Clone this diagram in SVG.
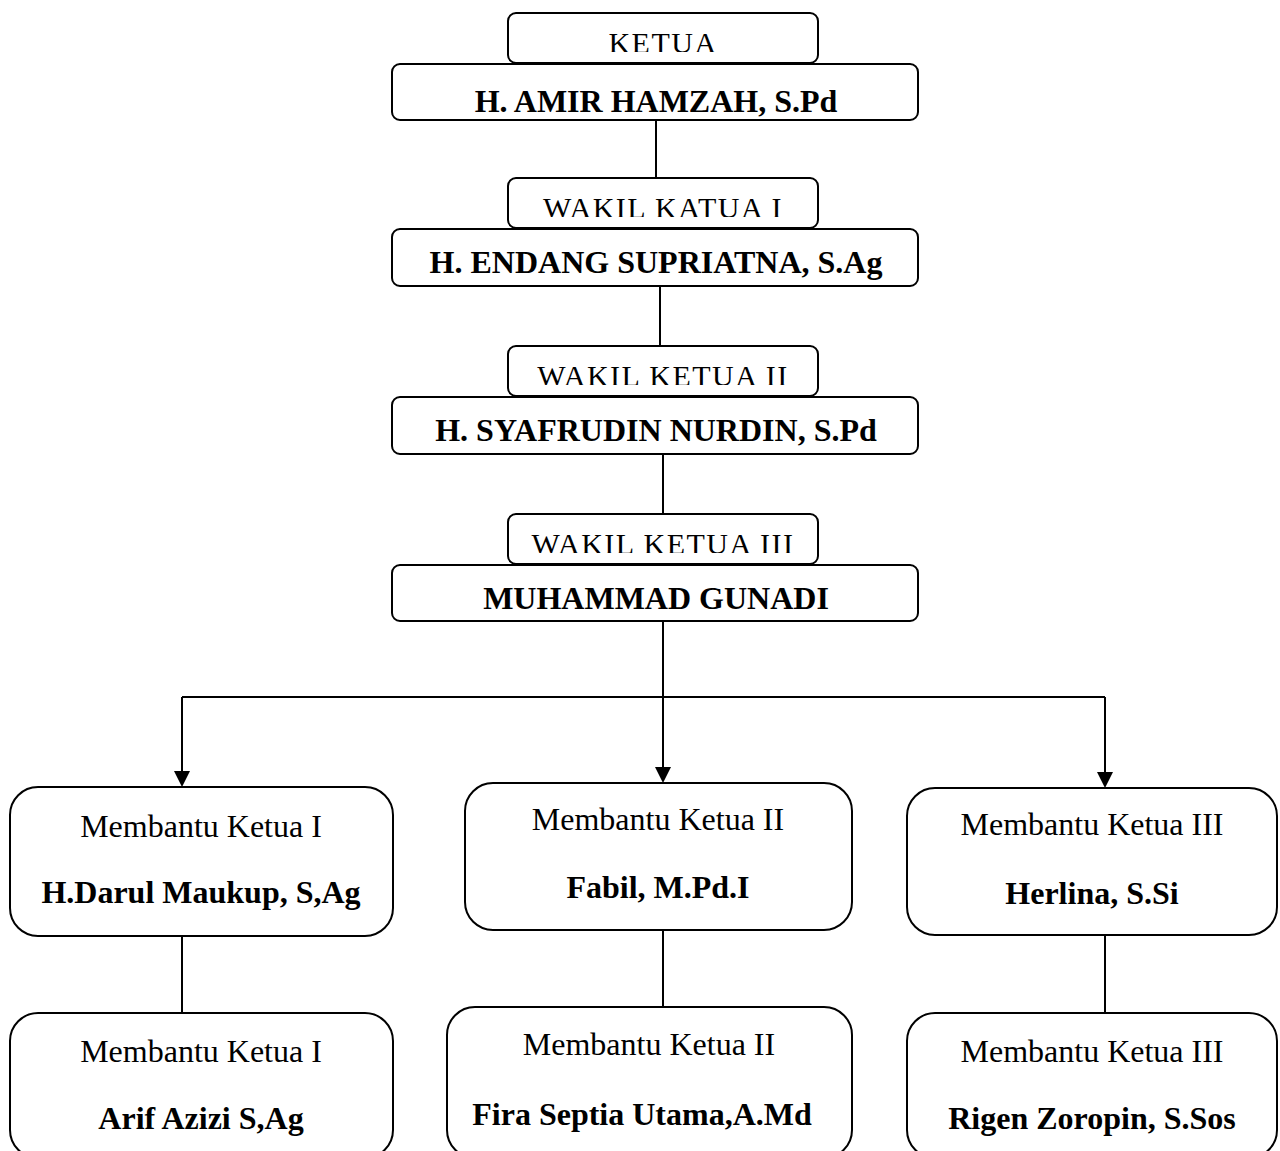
<svg xmlns="http://www.w3.org/2000/svg" width="1280" height="1151" viewBox="0 0 1280 1151">
<style>
.box{fill:#fff;stroke:#000;stroke-width:2}
.lbl{font-family:"Liberation Serif","Times New Roman",serif;font-size:30px;letter-spacing:1.5px;text-anchor:middle;fill:#000}
.name{font-family:"Liberation Serif","Times New Roman",serif;font-size:32px;font-weight:bold;text-anchor:middle;fill:#000}
.role{font-family:"Liberation Serif","Times New Roman",serif;font-size:32px;text-anchor:middle;fill:#000}
.person{font-family:"Liberation Serif","Times New Roman",serif;font-size:32px;font-weight:bold;text-anchor:middle;fill:#000}
.ln{stroke:#000;stroke-width:2;fill:none}
</style>
<defs>
<clipPath id="c1"><rect x="508" y="13" width="310" height="39"/></clipPath>
<clipPath id="c2"><rect x="508" y="178" width="310" height="39"/></clipPath>
<clipPath id="c3"><rect x="508" y="346" width="310" height="39"/></clipPath>
<clipPath id="c4"><rect x="508" y="514" width="310" height="39"/></clipPath>
</defs>
<g id="connectors">
<line class="ln" x1="656" y1="120" x2="656" y2="178"/>
<line class="ln" x1="660" y1="286" x2="660" y2="346"/>
<line class="ln" x1="663" y1="453" x2="663" y2="514"/>
<line class="ln" x1="663" y1="620" x2="663" y2="697"/>
<line class="ln" x1="182" y1="697" x2="1105" y2="697"/>
<line class="ln" x1="182" y1="697" x2="182" y2="772"/>
<path d="M174,771 L190,771 L182,787 Z" fill="#000"/>
<line class="ln" x1="663" y1="697" x2="663" y2="768"/>
<path d="M655,767 L671,767 L663,783 Z" fill="#000"/>
<line class="ln" x1="1105" y1="697" x2="1105" y2="772"/>
<path d="M1097,772 L1113,772 L1105,788 Z" fill="#000"/>
<line class="ln" x1="182" y1="936" x2="182" y2="1013"/>
<line class="ln" x1="663" y1="930" x2="663" y2="1008"/>
<line class="ln" x1="1105" y1="935" x2="1105" y2="1013"/>
</g>
<g id="ketua">
<rect class="box" x="508" y="13" width="310" height="50" rx="8"/>
<text class="lbl" x="663" y="53" clip-path="url(#c1)">KETUA</text>
<rect class="box" x="392" y="64" width="526" height="56" rx="8"/>
<text class="name" x="656" y="112">H. AMIR HAMZAH, S.Pd</text>
</g>
<g id="wakil1">
<rect class="box" x="508" y="178" width="310" height="50" rx="8"/>
<text class="lbl" x="663" y="218" clip-path="url(#c2)">WAKIL KATUA I</text>
<rect class="box" x="392" y="229" width="526" height="57" rx="8"/>
<text class="name" x="656" y="273">H. ENDANG SUPRIATNA, S.Ag</text>
</g>
<g id="wakil2">
<rect class="box" x="508" y="346" width="310" height="50" rx="8"/>
<text class="lbl" x="663" y="386" clip-path="url(#c3)">WAKIL KETUA II</text>
<rect class="box" x="392" y="397" width="526" height="57" rx="8"/>
<text class="name" x="656" y="441">H. SYAFRUDIN NURDIN, S.Pd</text>
</g>
<g id="wakil3">
<rect class="box" x="508" y="514" width="310" height="50" rx="8"/>
<text class="lbl" x="663" y="554" clip-path="url(#c4)">WAKIL KETUA III</text>
<rect class="box" x="392" y="565" width="526" height="56" rx="8"/>
<text class="name" x="656" y="609">MUHAMMAD GUNADI</text>
</g>
<g id="m1a">
<rect class="box" x="10" y="787" width="383" height="149" rx="28"/>
<text class="role" x="201" y="837">Membantu Ketua I</text>
<text class="person" x="201" y="903">H.Darul Maukup, S,Ag</text>
</g>
<g id="m2a">
<rect class="box" x="465" y="783" width="387" height="147" rx="28"/>
<text class="role" x="658" y="830">Membantu Ketua II</text>
<text class="person" x="658" y="898">Fabil, M.Pd.I</text>
</g>
<g id="m3a">
<rect class="box" x="907" y="788" width="370" height="147" rx="28"/>
<text class="role" x="1092" y="835">Membantu Ketua III</text>
<text class="person" x="1092" y="904">Herlina, S.Si</text>
</g>
<g id="m1b">
<rect class="box" x="10" y="1013" width="383" height="145" rx="28"/>
<text class="role" x="201" y="1062">Membantu Ketua I</text>
<text class="person" x="201" y="1129">Arif Azizi S,Ag</text>
</g>
<g id="m2b">
<rect class="box" x="447" y="1007" width="405" height="151" rx="28"/>
<text class="role" x="649" y="1055">Membantu Ketua II</text>
<text class="person" x="642" y="1125">Fira Septia Utama,A.Md</text>
</g>
<g id="m3b">
<rect class="box" x="907" y="1013" width="370" height="145" rx="28"/>
<text class="role" x="1092" y="1062">Membantu Ketua III</text>
<text class="person" x="1092" y="1129">Rigen Zoropin, S.Sos</text>
</g>
</svg>
